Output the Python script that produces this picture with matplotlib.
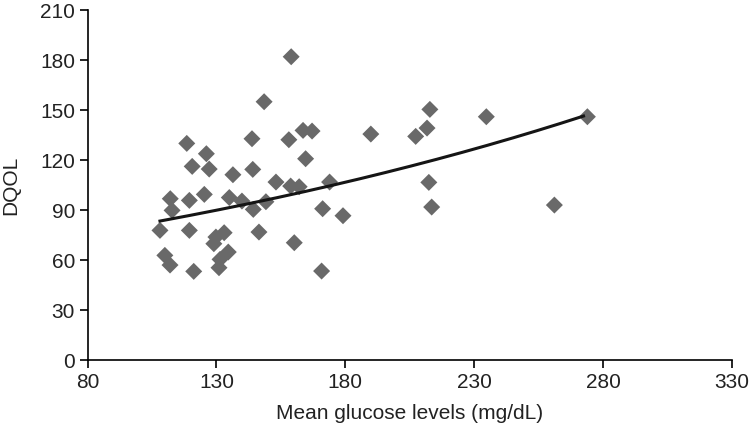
import numpy as np
import matplotlib
matplotlib.use("Agg")
import matplotlib.pyplot as plt

plt.rcParams['font.family'] = ['Liberation Sans', 'DejaVu Sans']

glucose = [159, 148.5, 118.5, 143.8, 158.1, 163.6, 167.1, 126.1, 120.6, 127.2,
           164.6, 136.4, 144.1, 153.1, 173.9, 158.8, 162.1, 112.1, 119.5, 125.3,
           112.8, 135.0, 139.9, 144.3, 149.2, 171.2, 179.1, 108.1, 119.5, 146.5,
           129.8, 133.0, 129.0, 160.2, 110.0, 112.0, 134.6, 131.4, 131.0, 121.2,
           170.8, 212.8, 189.9, 207.3, 211.7, 234.7, 273.9, 212.4, 213.5, 261.1]
dqol = [182, 155, 130, 132.8, 132.2, 137.8, 137.4, 123.8, 116.2, 114.6,
        120.8, 111.2, 114.4, 106.8, 106.8, 104.4, 104.0, 96.8, 95.8, 99.4,
        89.8, 97.5, 95.4, 90.4, 95.0, 90.8, 86.6, 77.8, 77.8, 76.8,
        73.8, 76.4, 69.8, 70.4, 62.8, 57.0, 64.8, 60.4, 55.4, 53.2,
        53.4, 150.4, 135.6, 134.2, 139.2, 146.0, 146.0, 106.6, 91.8, 93.0]

# exponential trend line coefficients (y = a * exp(b * (x - x0)))
trend_a = 83.4
trend_b = 0.003425
trend_x0 = 108.1
trend_x1 = 272.4

x_ticks = [80, 130, 180, 230, 280, 330]
y_ticks = [0, 30, 60, 90, 120, 150, 180, 210]

fig = plt.figure(figsize=(7.5, 4.38), dpi=100)
ax = fig.add_axes([0.1167, 0.178, 0.8593, 0.799])

ax.scatter(glucose, dqol, marker='D', s=75, color='#696969', edgecolors='none', zorder=2)
tx = np.linspace(trend_x0, trend_x1, 200)
ty = trend_a * np.exp(trend_b * (tx - trend_x0))
ax.plot(tx, ty, color='#151515', lw=2.2, zorder=3)

ax.set_xlim(80, 330)
ax.set_ylim(0, 210)
ax.set_xticks(x_ticks)
ax.set_yticks(y_ticks)
for s in ['top', 'right']:
    ax.spines[s].set_visible(False)
for s in ['left', 'bottom']:
    ax.spines[s].set_linewidth(1.2)
    ax.spines[s].set_color('black')
ax.tick_params(axis='both', direction='out', length=6, width=1.2, labelsize=15, color='black', labelcolor='#222222', pad=3)
ax.set_xlabel('Mean glucose levels (mg/dL)', fontsize=15, color='#222222', labelpad=9)
ax.set_ylabel('DQOL', fontsize=15, color='#222222', labelpad=14)

fig.savefig('out.png', dpi=100)
